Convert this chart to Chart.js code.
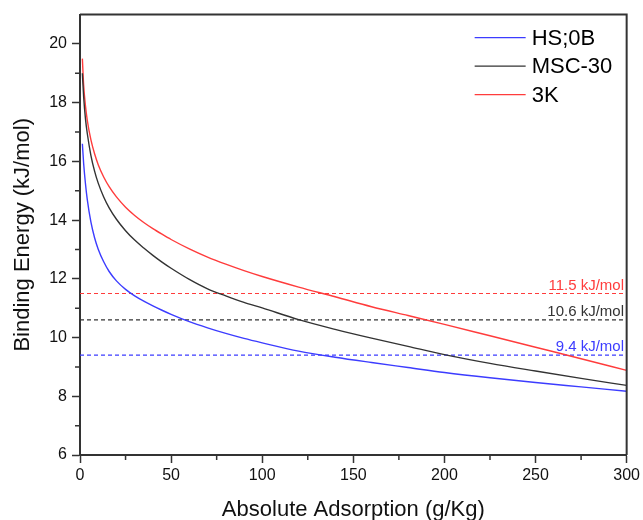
<!DOCTYPE html>
<html>
<head>
<meta charset="utf-8">
<script src="https://cdn.jsdelivr.net/npm/chart.js@4.4.1/dist/chart.umd.min.js"></script>
<style>
  html, body { margin: 0; padding: 0; background: #fff; }
  #wrap { width: 643px; height: 520px; position: relative; }
</style>
</head>
<body>
<div id="wrap"><canvas id="bindingChart" width="643" height="520"></canvas></div>
<script>
// DATA

const xValues   = [1.3, 2, 3, 4, 6, 8, 10, 13, 16, 20, 25, 30, 35, 40, 45, 50, 60, 70, 80, 90, 100, 120, 140, 160, 180, 200, 225, 250, 275, 300];
const hsValues  = [16.6, 15.93, 15.24, 14.7, 13.93, 13.4, 13.01, 12.58, 12.25, 11.93, 11.64, 11.42, 11.24, 11.08, 10.93, 10.79, 10.54, 10.33, 10.14, 9.97, 9.82, 9.54, 9.33, 9.15, 8.98, 8.81, 8.63, 8.47, 8.32, 8.17];
const mscValues = [19.0, 18.2, 17.45, 16.95, 16.2, 15.67, 15.26, 14.79, 14.42, 14.03, 13.64, 13.32, 13.05, 12.8, 12.57, 12.36, 11.98, 11.66, 11.42, 11.2, 11.01, 10.61, 10.28, 9.98, 9.7, 9.42, 9.12, 8.86, 8.61, 8.37];
const k3Values  = [19.5, 18.6, 17.89, 17.4, 16.73, 16.26, 15.89, 15.47, 15.14, 14.79, 14.44, 14.16, 13.92, 13.71, 13.52, 13.34, 13.02, 12.74, 12.5, 12.28, 12.08, 11.72, 11.39, 11.05, 10.75, 10.45, 10.06, 9.67, 9.28, 8.88];

const seriesNames  = ["HS;0B", "MSC-30", "3K"];
const seriesColors = ["#3c3cff", "#333333", "#ff3c3c"];

const refValues = [11.5, 10.6, 9.4];
const refLabels = ["11.5 kJ/mol", "10.6 kJ/mol", "9.4 kJ/mol"];
const refColors = ["#ff3c3c", "#333333", "#3c3cff"];
const refStart = 0;
const refEnd = 298;

const xTicks = [0, 50, 100, 150, 200, 250, 300];
const yTicks = [6, 8, 10, 12, 14, 16, 18, 20];
const xMinor = [25, 75, 125, 175, 225, 275];
const yMinor = [7, 9, 11, 13, 15, 17, 19];

// DATASETS

const seriesValues = [hsValues, mscValues, k3Values];

const datasets = [];

seriesValues.forEach((vals, i) => {
  datasets.push({
    label: seriesNames[i],
    data: xValues.map((x, j) => ({ x: x, y: vals[j] })),
    borderColor: seriesColors[i],
    borderWidth: 1.4,
    pointRadius: 0,
    cubicInterpolationMode: "monotone",
    fill: false,
    isSeries: true
  });
});

refValues.forEach((v, i) => {
  datasets.push({
    label: refLabels[i],
    data: [{ x: refStart, y: v }, { x: refEnd, y: v }],
    borderColor: refColors[i],
    borderWidth: 1.2,
    borderDash: [4, 3],
    pointRadius: 0,
    fill: false,
    refText: refLabels[i]
  });
});

// PLUGIN: frame, minor ticks, legend, reference labels

const extrasPlugin = {
  id: "extras",
  afterDatasetsDraw(chart) {
    const ctx = chart.ctx;
    const area = chart.chartArea;
    const xs = chart.scales.x;
    const ys = chart.scales.y;

    ctx.save();

    // top and right frame
    ctx.strokeStyle = "#333";
    ctx.lineWidth = 2;
    ctx.beginPath();
    ctx.moveTo(area.left, area.top);
    ctx.lineTo(area.right, area.top);
    ctx.lineTo(area.right, area.bottom);
    ctx.stroke();

    // minor ticks
    ctx.lineWidth = 1.5;
    ctx.beginPath();
    xMinor.forEach(v => {
      const px = xs.getPixelForValue(v);
      ctx.moveTo(px, area.bottom);
      ctx.lineTo(px, area.bottom + 5);
    });
    yMinor.forEach(v => {
      const py = ys.getPixelForValue(v);
      ctx.moveTo(area.left, py);
      ctx.lineTo(area.left - 5, py);
    });
    ctx.stroke();

    // reference labels
    ctx.font = "15px 'Liberation Sans', Arial, sans-serif";
    ctx.textAlign = "right";
    ctx.textBaseline = "alphabetic";
    chart.data.datasets.forEach(ds => {
      if (!ds.refText) return;
      const py = ys.getPixelForValue(ds.data[0].y);
      const px = xs.getPixelForValue(ds.data[1].x);
      ctx.fillStyle = ds.borderColor;
      ctx.fillText(ds.refText, px + 1, py - 4);
    });

    // legend
    ctx.font = "22px 'Liberation Sans', Arial, sans-serif";
    ctx.textAlign = "left";
    ctx.textBaseline = "middle";
    let row = 0;
    chart.data.datasets.forEach(ds => {
      if (!ds.isSeries) return;
      const y = area.top + 23 + row * 28.5;
      ctx.strokeStyle = ds.borderColor;
      ctx.lineWidth = 1.4;
      ctx.beginPath();
      ctx.moveTo(area.right - 152, y);
      ctx.lineTo(area.right - 101, y);
      ctx.stroke();
      ctx.fillStyle = "#000";
      ctx.fillText(ds.label, area.right - 95, y + 1);
      row++;
    });

    ctx.restore();
  }
};

// CHART

const ctx = document.getElementById("bindingChart");

new Chart(ctx, {
  type: "line",
  data: { datasets: datasets },
  options: {
    responsive: false,
    animation: false,
    layout: { padding: { top: 13, right: 15, left: 0, bottom: 0 } },
    plugins: {
      legend: { display: false },
      tooltip: { enabled: false }
    },
    scales: {
      x: {
        type: "linear",
        min: 0,
        max: 300,
        afterBuildTicks: s => { s.ticks = xTicks.map(v => ({ value: v })); },
        afterFit: s => { s.height = 65; },
        border: { color: "#333", width: 2 },
        grid: { drawOnChartArea: false, tickLength: 8, tickColor: "#333", tickWidth: 1.5 },
        ticks: {
          color: "#111",
          padding: 3,
          maxRotation: 0,
          font: { family: "'Liberation Sans', Arial, sans-serif", size: 16 }
        },
        title: {
          display: true,
          text: "Absolute Adsorption (g/Kg)",
          color: "#111",
          padding: { top: 0, bottom: -3 },
          font: { family: "'Liberation Sans', Arial, sans-serif", size: 22 }
        }
      },
      y: {
        type: "linear",
        min: 6,
        max: 21,
        afterBuildTicks: s => { s.ticks = yTicks.map(v => ({ value: v })); },
        afterFit: s => { s.width = 80; },
        border: { color: "#333", width: 2 },
        grid: { drawOnChartArea: false, tickLength: 8, tickColor: "#333", tickWidth: 1.5 },
        ticks: {
          color: "#111",
          padding: 5,
          font: { family: "'Liberation Sans', Arial, sans-serif", size: 16 }
        },
        title: {
          display: true,
          text: "Binding Energy (kJ/mol)",
          color: "#111",
          padding: { top: 10, bottom: 0 },
          font: { family: "'Liberation Sans', Arial, sans-serif", size: 22 }
        }
      }
    }
  },
  plugins: [extrasPlugin]
});
</script>
</body>
</html>
